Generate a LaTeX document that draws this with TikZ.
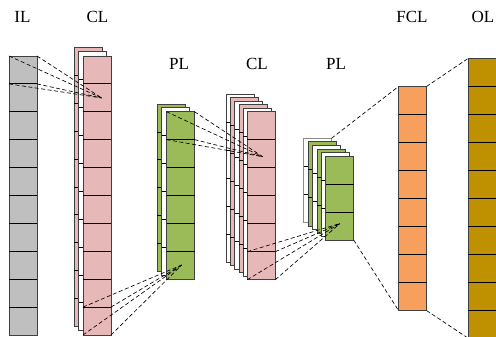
\documentclass[tikz,border=0pt]{standalone}
\usepackage{fontspec}
\setmainfont{Liberation Serif}
\usetikzlibrary{calc}

\definecolor{ilgray}{HTML}{BFBFBF}
\definecolor{convpink}{HTML}{E6B9B8}
\definecolor{poolgreen}{HTML}{9BBB59}
\definecolor{fcorange}{HTML}{F79F5D}
\definecolor{outgold}{HTML}{BF9000}

\tikzset{
  colbox/.style={draw=black!75, line width=0.8pt, inner sep=0pt, outer sep=0pt,
                 minimum width=28pt, rectangle},
  cellline/.style={draw=black, line width=0.8pt},
  link/.style={draw=black, line width=0.65pt, dash pattern=on 4pt off 2.5pt},
  lbl/.style={font=\fontsize{17}{20}\selectfont, inner sep=0pt}
}

% one column of cells: name, left x, top y, bottom y, number of cells, fill
\newcommand\stackcol[6]{%
  \node[colbox, fill=#6, minimum height={(#4-#3)*1pt}, anchor=north west] (#1) at (#2,#3) {};
  \pgfmathtruncatemacro\lastcell{#5-1}%
  \foreach \k in {1,...,\lastcell}
    \draw[cellline] ($(#1.north west)!\k/#5!(#1.south west)$) -- ($(#1.north east)!\k/#5!(#1.south east)$);
}

\begin{document}
\begin{tikzpicture}[x=1pt, y=-1pt]
\useasboundingbox (0,0) rectangle (496,337);

% layer titles
\node[lbl] (tIL)  at (22.5,17) {IL};
\node[lbl] (tCL1) at (97.5,17) {CL};
\node[lbl] (tPL1) at (179,64) {PL};
\node[lbl] (tCL2) at (257,64) {CL};
\node[lbl] (tPL2) at (336,64) {PL};
\node[lbl] (tFCL) at (412,17) {FCL};
\node[lbl] (tOL)  at (483,17) {OL};

% input layer
\stackcol{il}{9}{56}{335}{10}{ilgray}

% first convolution layer (three maps)
\stackcol{ca}{74}{47.5}{326.5}{10}{convpink}
\stackcol{cb}{78.5}{51.8}{330.8}{10}{white}
\stackcol{cc}{83}{56}{335}{10}{convpink}

% first pooling layer
\stackcol{pa}{157}{104}{271.5}{6}{poolgreen}
\stackcol{pb}{161.5}{107.5}{275}{6}{white}
\stackcol{pc}{166.5}{111.7}{279.2}{6}{poolgreen}

% second convolution layer (six maps)
\stackcol{da}{226}{94}{262}{6}{white}
\stackcol{db}{230.3}{97.5}{265.5}{6}{convpink}
\stackcol{dc}{234.6}{101}{269}{6}{white}
\stackcol{dd}{238.9}{104.6}{272.6}{6}{convpink}
\stackcol{de}{243.1}{108.2}{276.2}{6}{white}
\stackcol{df}{247.3}{111.7}{279.7}{6}{convpink}

% second pooling layer (six maps)
\stackcol{qa}{303.5}{138.3}{222.3}{3}{white}
\draw[draw=black!45, line width=0.8pt] (qa.north west) rectangle (qa.south east);
\stackcol{qb}{308}{141.9}{225.9}{3}{poolgreen}
\stackcol{qc}{312.5}{145.4}{229.4}{3}{white}
\stackcol{qd}{317}{149}{233}{3}{poolgreen}
\stackcol{qe}{321.3}{152.5}{236.5}{3}{white}
\stackcol{qf}{325.7}{156}{240}{3}{poolgreen}

% fully connected and output layers
\stackcol{fc}{398.5}{86.5}{310.5}{8}{fcorange}
\stackcol{ol}{468.3}{58.3}{338.3}{10}{outgold}

% receptive field targets
\coordinate (t1) at (101.7,98);
\coordinate (t2) at (181.7,265);
\coordinate (t3) at (262.7,156.7);
\coordinate (t4) at (340,223.5);

% input -> first convolution
\foreach \a in {north west, north east}
  \draw[link] (il.\a) -- (t1);
\draw[link] ($(il.north west)!0.1!(il.south west)$) -- (t1);
\draw[link] ($(il.north east)!0.1!(il.south east)$) -- (t1);

% first convolution -> first pooling
\foreach \a in {south west, south east}
  \draw[link] (cc.\a) -- (t2);
\draw[link] ($(cc.north west)!0.9!(cc.south west)$) -- (t2);
\draw[link] ($(cc.north east)!0.9!(cc.south east)$) -- (t2);

% first pooling -> second convolution
\foreach \a in {north west, north east}
  \draw[link] (pc.\a) -- (t3);
\draw[link] ($(pc.north west)!1/6!(pc.south west)$) -- (t3);
\draw[link] ($(pc.north east)!1/6!(pc.south east)$) -- (t3);

% second convolution -> second pooling
\foreach \a in {south west, south east}
  \draw[link] (df.\a) -- (t4);
\draw[link] ($(df.north west)!5/6!(df.south west)$) -- (t4);
\draw[link] ($(df.north east)!5/6!(df.south east)$) -- (t4);

% pooling -> fully connected -> output
\draw[link] (qa.north east) -- (fc.north west);
\draw[link] (qf.south east) -- (fc.south west);
\draw[link] (fc.north east) -- (ol.north west);
\draw[link] (fc.south east) -- (ol.south west);
\end{tikzpicture}
\end{document}
